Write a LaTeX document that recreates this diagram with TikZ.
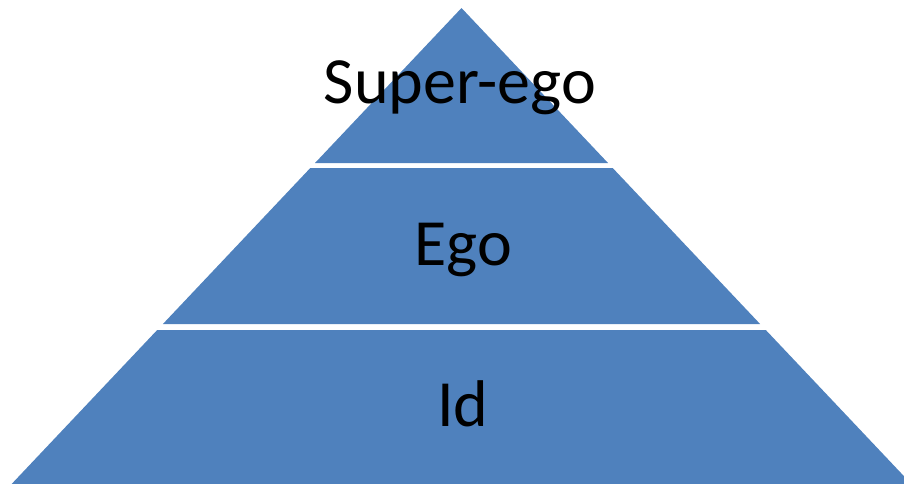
\documentclass[tikz,border=0pt]{standalone}
\usepackage{fontspec}
\setmainfont{Carlito}
\definecolor{layerblue}{HTML}{4F81BD}

\begin{document}
\begin{tikzpicture}[x=1pt,y=-1pt,
    layer/.style={fill=layerblue},
    tag/.style={anchor=base,inner sep=0pt,
      font=\fontsize{66}{72}\selectfont}]
  \useasboundingbox (0,0) rectangle (904,483);
  \clip (0,0) rectangle (904,483);
  \fill[layer]
    (461.5,8) -- (608,163) -- (315,163) -- cycle;
  \fill[layer]
    (310.3,168) -- (612.7,168) -- (760.1,324) -- (162.9,324) -- cycle;
  \fill[layer]
    (157.2,330) -- (765.8,330) -- (918,491) -- (5,491) -- cycle;
  \node[tag] (superego) at (460,103) {Super-ego};
  \node[tag] (ego) at (463,265) {Ego};
  \node[tag] (id) at (463,426) {Id};
\end{tikzpicture}
\end{document}
